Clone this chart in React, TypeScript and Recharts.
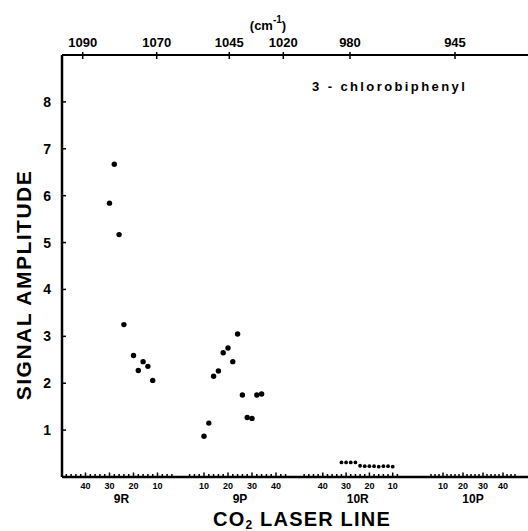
import { ScatterChart, Scatter, XAxis, YAxis } from "recharts";

// laser line axis: where J=0 of each band sits, which way J runs, spacing per J
const bands = ["9R", "9P", "10R", "10P"];
const bandZero = [119.5, 118, 354, 361];
const bandDir = [-1, 1, -1, 1];
const bandStep = [2.4, 2.4, 2.33, 2.0];

const r9J = [30, 28, 26, 24, 20, 18, 16, 14, 12];
const r9Amp = [5.84, 6.67, 5.17, 3.25, 2.59, 2.27, 2.46, 2.36, 2.06];

const p9J = [10, 12, 14, 16, 18, 20, 22, 24, 26, 28, 30, 32, 34];
const p9Amp = [0.87, 1.15, 2.15, 2.26, 2.65, 2.75, 2.46, 3.05, 1.75, 1.27, 1.25, 1.75, 1.77];

const r10J = [32, 30, 28, 26, 24, 22, 20, 18, 16, 14, 12, 10];
const r10Amp = [0.31, 0.31, 0.31, 0.31, 0.24, 0.23, 0.23, 0.23, 0.22, 0.23, 0.23, 0.22];

// every laser line gets a small mark on the bottom axis
const lineJ = [
  [4, 6, 8, 10, 12, 14, 16, 18, 20, 22, 24, 26, 28, 30, 32, 34, 36, 38, 40, 42, 44, 46, 48],
  [4, 6, 8, 10, 12, 14, 16, 18, 20, 22, 24, 26, 28, 30, 32, 34, 36, 38, 40, 42, 44],
  [8, 10, 12, 14, 16, 18, 20, 22, 24, 26, 28, 30, 32, 34, 36, 38, 40, 42, 44, 46, 48],
  [4, 6, 8, 10, 12, 14, 16, 18, 20, 22, 24, 26, 28, 30, 32, 34, 36, 38, 40, 42, 44, 46],
];
const labeledJ = [10, 20, 30, 40];
const bandLabelJ = 25;

const wavenumbers = [1090, 1070, 1045, 1020, 980, 945];
const wavenumberPos = [20.7, 94.7, 167.3, 221.3, 288, 393];

const yTicks = [1, 2, 3, 4, 5, 6, 7, 8];

const FONT = "'Liberation Sans', Arial, sans-serif";

const pos = (b: number, j: number) => bandZero[b] + bandDir[b] * bandStep[b] * j;

const r9 = r9J.map((j, i) => ({ x: pos(0, j), y: r9Amp[i] }));
const p9 = p9J.map((j, i) => ({ x: pos(1, j), y: p9Amp[i] }));
const r10 = r10J.map((j, i) => ({ x: pos(2, j), y: r10Amp[i] }));

type BTick = { x: number; j?: number; band?: string };
const bottomTicks: BTick[] = [
  ...lineJ.flatMap((js, b) => js.map((j) => ({ x: pos(b, j), j }))),
  ...bands.map((band, b) => ({ x: pos(b, bandLabelJ), band })),
];
// anchors so the top (wavenumber) axis has something bound to it
const waveAnchors = wavenumberPos.map((x) => ({ x, y: 0 }));

const BottomTick = (props: any) => {
  const t = bottomTicks[props.index];
  if (!t) return <g />;
  if (t.band) {
    return (
      <text x={props.x} y={props.y + 26} textAnchor="middle" fontSize={12} fontWeight={700} fontFamily={FONT} fill="#000">
        {t.band}
      </text>
    );
  }
  const lab = labeledJ.includes(t.j as number);
  return (
    <g>
      <line x1={props.x} x2={props.x} y1={props.y} y2={props.y - (lab ? 4.5 : 3)} stroke="#000" strokeWidth={1.5} />
      {lab && (
        <text x={props.x} y={props.y + 12} textAnchor="middle" fontSize={9} fontWeight={700} fontFamily={FONT} fill="#000">
          {t.j}
        </text>
      )}
    </g>
  );
};

const TopTick = (props: any) => (
  <g>
    <line x1={props.x} x2={props.x} y1={props.y - 3} y2={props.y + 4} stroke="#000" strokeWidth={1.5} />
    <text x={props.x} y={props.y - 8} textAnchor="middle" fontSize={13} fontWeight={700} fontFamily={FONT} fill="#000">
      {wavenumbers[props.index]}
    </text>
  </g>
);

const LeftTick = (props: any) => (
  <g>
    <line x1={props.x} x2={props.x + 4} y1={props.y} y2={props.y} stroke="#000" strokeWidth={1.5} />
    <text x={props.x - 11} y={props.y + 5} textAnchor="end" fontSize={14} fontWeight={700} fontFamily={FONT} fill="#000">
      {props.payload.value}
    </text>
  </g>
);

const bigDot = (p: any) => <circle cx={p.cx} cy={p.cy} r={2.7} fill="#000" />;
const smallDot = (p: any) => <circle cx={p.cx} cy={p.cy} r={1.9} fill="#000" />;
const noDot = () => <g />;

export default function App() {
  return (
    <div style={{ position: "absolute", left: 0, top: 0, width: 528, height: 531, background: "#fff" }}>
      <ScatterChart width={528} height={531} margin={{ top: 0, right: 0, bottom: 0, left: 0 }}>
        <XAxis
          xAxisId="line"
          type="number"
          dataKey="x"
          domain={[0, 466]}
          allowDataOverflow
          ticks={bottomTicks.map((t) => t.x)}
          interval={0}
          tick={BottomTick}
          tickLine={false}
          tickSize={0}
          tickMargin={0}
          height={54}
          axisLine={{ stroke: "#000", strokeWidth: 2.5 }}
        />
        <XAxis
          xAxisId="wave"
          orientation="top"
          type="number"
          dataKey="x"
          domain={[0, 466]}
          allowDataOverflow
          ticks={wavenumberPos}
          interval={0}
          tick={TopTick}
          tickLine={false}
          tickSize={0}
          tickMargin={0}
          height={55}
          axisLine={{ stroke: "#000", strokeWidth: 2 }}
        />
        <YAxis
          type="number"
          dataKey="y"
          domain={[0, 9]}
          allowDataOverflow
          ticks={yTicks}
          interval={0}
          tick={LeftTick}
          tickLine={false}
          tickSize={0}
          tickMargin={0}
          width={62}
          axisLine={{ stroke: "#000", strokeWidth: 2.5 }}
        />
        <Scatter xAxisId="wave" data={waveAnchors} shape={noDot} isAnimationActive={false} />
        <Scatter xAxisId="line" data={r9} shape={bigDot} isAnimationActive={false} />
        <Scatter xAxisId="line" data={p9} shape={bigDot} isAnimationActive={false} />
        <Scatter xAxisId="line" data={r10} shape={smallDot} isAnimationActive={false} />

        <text x={268} y={30} textAnchor="middle" fontSize={13} fontWeight={700} fontFamily={FONT} fill="#000">
          (cm
          <tspan dy={-7} fontSize={10}>
            -1
          </tspan>
          <tspan dy={7}>)</tspan>
        </text>
        <text x={312} y={91} fontSize={13} fontWeight={700} fontFamily={FONT} letterSpacing={2.4} fill="#000">
          3 - chlorobiphenyl
        </text>
        <text
          x={23}
          y={293}
          transform="rotate(-90 23 285)"
          textAnchor="middle"
          fontSize={21}
          fontWeight={700}
          fontFamily={FONT}
          letterSpacing={1.5}
          fill="#000"
        >
          SIGNAL  AMPLITUDE
        </text>
        <text x={302} y={526} textAnchor="middle" fontSize={20} fontWeight={700} fontFamily={FONT} letterSpacing={1.2} fill="#000">
          CO
          <tspan dy={3} fontSize={12}>
            2
          </tspan>
          <tspan dy={-3}> LASER LINE</tspan>
        </text>
      </ScatterChart>
    </div>
  );
}
